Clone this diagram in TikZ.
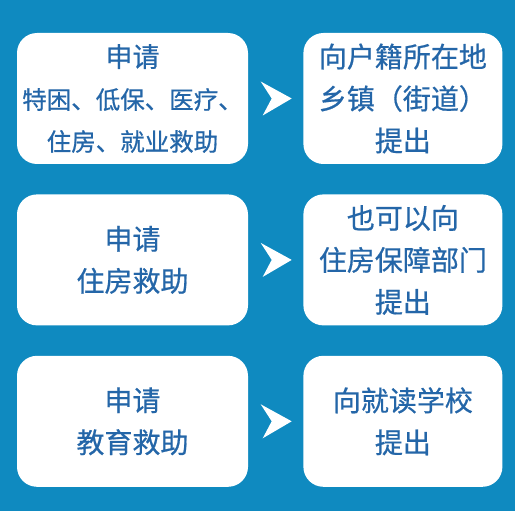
\documentclass[tikz,border=0pt]{standalone}
\usepackage{fontspec}
\setmainfont{Noto Sans CJK SC}[FakeBold=0.6, AutoFakeBold=0.6]
\usetikzlibrary{positioning,calc}
\definecolor{panelblue}{RGB}{15,138,192}
\definecolor{textblue}{RGB}{36,102,168}

\begin{document}
\begin{tikzpicture}[
    x=1pt, y=1pt,
    node distance=30pt and 55pt,
    every node/.style={align=center, text=textblue, font=\bfseries\fontsize{28}{42}\selectfont},
    applybox/.style={rectangle, rounded corners=20pt, fill=white, minimum width=231pt, minimum height=131pt, inner sep=0pt},
    officebox/.style={applybox, minimum width=199pt},
    chev/.pic={\fill[white] (-15,17) -- (16,0) -- (-13,-17) -- (-4,0) -- cycle;}
]
\fill[panelblue] (0,0) rectangle (515,-511);
\useasboundingbox (0,0) rectangle (515,-511);

\node[applybox, font=\bfseries\fontsize{24.5}{42}\selectfont] (apply1) at (132.5,-98.5) {{\fontsize{27}{42}\selectfont 申请}\\特困、低保、医疗、\\住房、就业救助};
\node[officebox, right=of apply1] (office1) {向户籍所在地\\乡镇（街道）\\提出};
\node[applybox, below=of apply1] (apply2) {申请\\住房救助};
\node[officebox, right=of apply2] (office2) {也可以向\\住房保障部门\\提出};
\node[applybox, below=of apply2] (apply3) {申请\\教育救助};
\node[officebox, right=of apply3] (office3) {向就读学校\\提出};

\pic at ($(apply1.east)!0.5!(office1.west)$) {chev};
\pic at ($(apply2.east)!0.5!(office2.west)$) {chev};
\pic at ($(apply3.east)!0.5!(office3.west)$) {chev};

\end{tikzpicture}
\end{document}
